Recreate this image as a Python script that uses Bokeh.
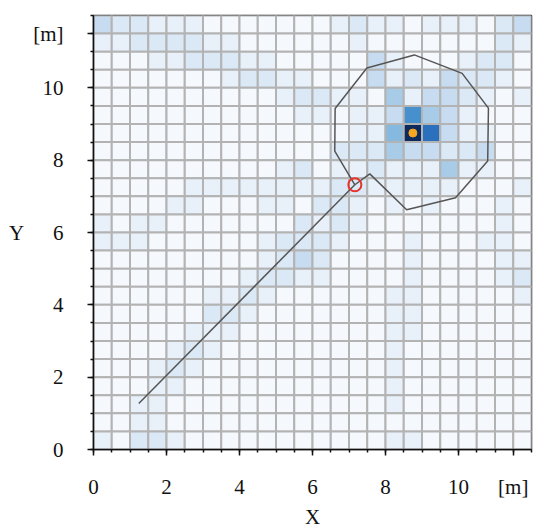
from bokeh.plotting import figure
from bokeh.models import Range1d, FixedTicker, LinearColorMapper, ColumnDataSource
from bokeh.embed import file_html
from bokeh.resources import INLINE

# ---------------- data ----------------
cell_size = 0.5          # metres per grid cell
grid_n = 24              # cells per side
area_max = 12.0

# intensity level of every cell, rows listed from top (y=12) to bottom (y=0)
intensity_rows = [
    [3,2,2,1,1,1,0,0,0,0,0,0, 0,1,2,1,1,0,1,1,1,0,2,3],
    [1,1,2,2,2,2,1,1,0,0,0,0, 0,0,1,0,0,0,0,0,0,0,2,1],
    [0,0,0,1,1,2,2,2,1,1,0,0, 0,0,0,3,1,0,0,0,1,2,2,0],
    [0,0,0,0,0,0,0,1,2,2,1,1, 0,0,0,3,1,2,1,3,2,2,1,0],
    [0,0,0,0,0,0,0,0,0,0,1,2, 2,1,1,0,4,1,3,3,2,1,0,1],
    [0,0,0,0,0,0,0,0,0,0,0,1, 1,0,1,1,3,6,4,3,1,0,0,0],
    [0,0,0,0,0,0,0,0,0,0,0,0, 0,0,1,1,5,9,7,3,1,1,0,0],
    [0,0,0,0,0,0,0,0,0,0,0,0, 0,2,2,2,4,3,3,2,2,3,0,0],
    [0,0,0,0,0,0,0,0,0,0,1,2, 0,1,1,2,1,1,1,4,1,1,0,0],
    [0,0,0,0,0,1,1,1,1,1,1,1, 1,2,2,1,1,1,1,1,0,0,0,1],
    [0,0,0,0,1,1,0,0,0,1,1,0, 2,2,1,0,1,0,1,0,0,0,1,0],
    [1,0,1,1,0,0,0,0,0,0,0,2, 1,2,1,0,0,0,0,0,0,0,1,0],
    [1,1,1,0,0,0,0,0,0,1,2,2, 2,1,0,0,0,1,0,0,0,1,1,0],
    [0,0,0,0,0,0,0,0,0,1,2,3, 2,0,0,0,0,1,0,0,0,0,1,1],
    [0,0,0,0,0,0,0,0,1,2,2,1, 1,0,0,0,0,1,0,0,0,0,1,2],
    [0,0,0,0,0,0,1,1,2,1,0,0, 0,0,0,0,1,1,0,0,0,0,0,1],
    [0,0,0,0,0,0,2,2,1,0,0,0, 0,0,0,0,1,1,0,0,0,0,0,0],
    [0,0,0,0,0,1,1,1,0,0,0,0, 0,0,0,0,1,1,0,0,0,0,0,0],
    [0,0,0,0,1,2,1,0,0,0,0,0, 0,0,0,0,1,0,0,0,0,0,0,0],
    [0,0,0,1,2,1,0,0,0,0,0,0, 0,0,0,0,1,0,0,0,0,0,0,0],
    [0,0,0,1,1,0,0,0,0,0,0,0, 0,0,0,0,1,0,0,0,0,0,0,0],
    [0,0,1,1,0,0,0,0,0,0,0,0, 0,0,0,0,1,0,0,0,0,0,0,0],
    [0,0,1,1,0,0,0,0,0,0,0,0, 0,0,0,0,0,0,0,0,0,0,0,0],
    [1,0,2,2,1,0,0,0,0,0,0,0, 0,0,0,0,1,1,0,0,0,0,0,0],
]

# trajectory (start -> detection circle)
traj_x = [1.24, 7.16]
traj_y = [1.27, 7.32]

# region outline polygon
poly_x = [7.16, 7.57, 8.58, 9.92, 10.80, 10.82, 10.10, 8.79, 7.49, 6.62, 6.61, 7.16]
poly_y = [7.32, 7.62, 6.63, 6.96, 7.98, 9.44, 10.40, 10.91, 10.55, 9.43, 8.25, 7.32]

# markers
circle_x = [7.16]
circle_y = [7.32]
target_x = [8.75]
target_y = [8.75]

major_ticks = [0, 2, 4, 6, 8, 10]
unit_tick = 11.5
unit_label = "[m]"
x_label = "X"
y_label = "Y"

# ---------------- style ----------------
palette = ["#f5f8fd", "#e8f0fa", "#dbe8f5", "#c7dcf0", "#a8cbe7",
           "#86b9e0", "#4690ce", "#2a70bd", "#1a4f96", "#0c2a5b"]
FONT = "Liberation Serif"

cx, cy, lv = [], [], []
for r, row in enumerate(intensity_rows):
    for c, v in enumerate(row):
        cx.append((c + 0.5) * cell_size)
        cy.append(area_max - (r + 0.5) * cell_size)
        lv.append(v)
src = ColumnDataSource(dict(x=cx, y=cy, level=lv))
mapper = LinearColorMapper(palette=palette, low=-0.5, high=9.5)

p = figure(width=537, height=531, x_range=Range1d(0, area_max), y_range=Range1d(0, area_max),
           output_backend="svg", toolbar_location=None,
           min_border_left=93, min_border_right=6, min_border_top=15, min_border_bottom=78)
p.background_fill_color = "white"
p.grid.visible = False
p.outline_line_color = "#222222"
p.outline_line_width = 1.5

p.rect(x="x", y="y", width=cell_size, height=cell_size, source=src,
       fill_color={"field": "level", "transform": mapper},
       line_color="#b3b3b3", line_width=2)

p.line(poly_x, poly_y, line_color="#555555", line_width=1.5)
p.line(traj_x, traj_y, line_color="#555555", line_width=1.5)
p.scatter(circle_x, circle_y, marker="circle", size=13, fill_alpha=0,
          line_color="#e8322c", line_width=2)
p.scatter(target_x, target_y, marker="circle", size=8, fill_color="#f6a623",
          line_color="#f6a623")

minor = [i * cell_size for i in range(grid_n + 1)]
for ax, standoff, lab, lab_standoff in ((p.xaxis[0], 19, x_label, 3), (p.yaxis[0], 24, y_label, 6)):
    ax.ticker = FixedTicker(ticks=major_ticks + [unit_tick], minor_ticks=minor)
    ax.major_label_overrides = {unit_tick: unit_label}
    ax.major_label_text_font = FONT
    ax.major_label_text_font_size = "21px"
    ax.major_label_text_color = "#111111"
    ax.major_label_standoff = standoff
    ax.axis_line_color = "#111111"
    ax.axis_line_width = 1.5
    ax.major_tick_line_color = "#111111"
    ax.minor_tick_line_color = "#111111"
    ax.major_tick_line_width = 1.5
    ax.minor_tick_line_width = 1.5
    ax.major_tick_in = 0
    ax.major_tick_out = 6
    ax.minor_tick_in = 0
    ax.minor_tick_out = 3
    ax.axis_label = lab
    ax.axis_label_text_font = FONT
    ax.axis_label_text_font_size = "21px"
    ax.axis_label_text_font_style = "normal"
    ax.axis_label_text_color = "#111111"
    ax.axis_label_standoff = lab_standoff

try:
    p.yaxis[0].axis_label_orientation = "horizontal"
except Exception:
    pass

open("out.html", "w").write(file_html(p, INLINE))
